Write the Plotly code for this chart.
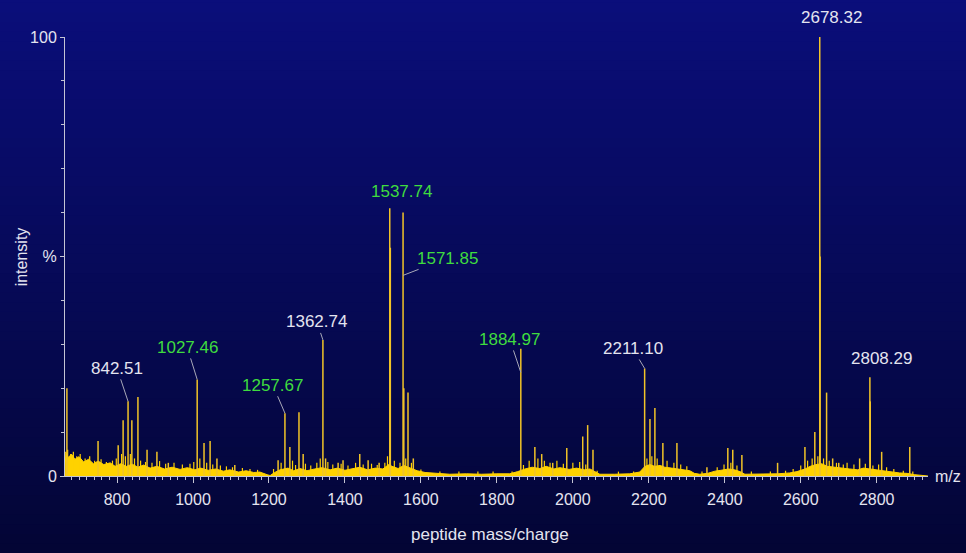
import plotly.graph_objects as go

# ---- data ----
peak_mz = [668, 750, 803, 816, 829, 839, 855, 879, 905, 935,
           1011, 1029, 1045, 1063, 1110,
           1224, 1242, 1255, 1279, 1290,
           1342, 1349, 1382, 1395, 1439, 1461, 1490,
           1518, 1519.5, 1553, 1555, 1566, 1580,
           1863, 1900, 1918, 1947, 1984, 2026, 2039, 2053,
           2189, 2203, 2216, 2237, 2274, 2353, 2408, 2421, 2445, 2539,
           2611, 2637, 2650, 2651, 2668, 2684, 2700, 2755, 2782, 2783, 2813, 2887]
peak_int = [20, 8, 7, 12.7, 17, 12.7, 18, 6, 5.5, 3,
            22, 7.5, 8, 4, 2.5,
            3.6, 14.3, 6.6, 14.5, 5,
            31, 4, 3, 3.6, 5, 3.6, 3,
            61, 52, 60, 20, 19, 4,
            29, 6.6, 5, 3, 6.4, 9, 11.6, 6,
            24.5, 13, 15.5, 7.5, 7.5, 2, 6.4, 6, 4.8, 3,
            6.6, 10, 100, 50, 19, 4, 3, 4, 22.5, 17, 5.5, 6.6]

noise_mz = [670, 678, 685, 694, 703, 716, 728, 741, 758, 772, 788, 798, 812, 822, 835,
            846, 862, 875, 892, 912, 928, 950, 972, 992, 1002, 1018, 1036, 1052, 1072,
            1088, 1104, 1130, 1150, 1170, 1212, 1232, 1262, 1270, 1296, 1310, 1326, 1335,
            1355, 1368, 1390, 1408, 1428, 1448, 1470, 1485, 1505, 1512, 1530, 1545, 1560,
            1575, 1600, 1650, 1700, 1750, 1790, 1840, 1870, 1885, 1908, 1925, 1940, 1958,
            1975, 2000, 2018, 2034, 2064, 2120, 2160, 2195, 2208, 2222, 2248, 2266, 2284,
            2300, 2340, 2380, 2398, 2416, 2432, 2470, 2520, 2560, 2580, 2600, 2618, 2630,
            2645, 2660, 2675, 2694, 2712, 2722, 2740, 2770, 2790, 2805, 2826, 2845, 2870, 2895]
noise_int = [6, 5, 5.5, 4.5, 5, 4, 4.5, 3.5, 3.8, 3.2, 3.5, 4, 5, 4.5, 5,
             4, 3.5, 3.2, 3, 3.4, 2.8, 3, 2.6, 2.8, 3.2, 4, 3, 2.6, 2.4,
             2.2, 2, 1.8, 1.6, 1.4, 1.6, 3, 3.5, 2.5, 2.8, 2.4, 3, 4,
             3.2, 2.6, 2.8, 2.4, 3, 2.6, 2.8, 2.5, 3, 4.5, 3.5, 3, 4,
             3, 1.5, 1, 1, 1, 1, 1, 2.5, 3.5, 4, 3.5, 3, 3.5,
             2.8, 3, 3.2, 2.6, 1.2, 1, 1, 4, 4.5, 4, 3.5, 3, 2.6,
             2.2, 1, 2, 2.6, 3, 2.4, 1, 1, 1.2, 1.6, 2.4, 3.5, 4,
             4.5, 4, 3.5, 3, 2.6, 3, 2.6, 2.8, 2.4, 2.6, 2, 1.6, 1.2, 1]

baseline_mz = [663, 665, 672, 680, 689, 700, 712, 725, 738, 750, 765, 782, 795, 810, 825,
               840, 855, 870, 887, 905, 925, 945, 966, 985, 1005, 1020, 1040, 1060, 1080,
               1097, 1120, 1140, 1160, 1176, 1195, 1203, 1215, 1229, 1250, 1265, 1282, 1300,
               1320, 1340, 1361, 1380, 1400, 1420, 1439, 1460, 1480, 1500, 1515, 1524, 1540,
               1555, 1571, 1590, 1611, 1640, 1676, 1720, 1760, 1800, 1834, 1855, 1874, 1893,
               1913, 1930, 1950, 1966, 1990, 2010, 2030, 2045, 2060, 2071, 2110, 2150, 2176,
               2190, 2203, 2215, 2230, 2242, 2260, 2275, 2290, 2308, 2320, 2334, 2355, 2374,
               2390, 2410, 2426, 2440, 2453, 2500, 2540, 2571, 2590, 2611, 2625, 2640, 2655,
               2670, 2689, 2705, 2729, 2750, 2765, 2782, 2800, 2820, 2834, 2860, 2880, 2900, 2935]
baseline_int = [0, 5.5, 4.2, 5.0, 3.8, 4.4, 3.2, 3.8, 2.8, 3.4, 2.6, 3.0, 2.2, 2.8, 2.2,
                2.7, 2.0, 2.5, 1.8, 2.2, 1.6, 2.0, 1.5, 1.9, 1.4, 1.8, 1.3, 1.6, 1.1,
                1.4, 0.9, 1.2, 0.8, 0.9, 0.3, 0.1, 0.8, 1.4, 1.8, 1.2, 1.7, 1.2,
                1.6, 1.9, 1.4, 1.8, 1.3, 1.7, 2.0, 1.4, 1.8, 1.6, 2.6, 2.2, 1.7,
                2.4, 1.8, 1.2, 0.8, 0.6, 0.4, 0.5, 0.4, 0.5, 0.5, 1.0, 1.6, 2.0,
                1.7, 2.2, 1.6, 1.9, 1.5, 1.8, 1.4, 1.6, 0.8, 0.4, 0.4, 0.5, 0.9,
                2.2, 2.6, 2.2, 2.4, 2.0, 1.8, 1.6, 1.4, 1.2, 0.6, 0.4, 0.6, 1.1,
                1.3, 1.6, 1.4, 1.0, 0.4, 0.4, 0.5, 0.7, 1.0, 1.6, 2.2, 2.6, 2.8,
                2.2, 2.0, 1.7, 1.6, 1.4, 1.8, 1.6, 1.4, 1.2, 0.9, 0.7, 0.6, 0.3, 0]

label_text = ["842.51", "1027.46", "1257.67", "1362.74", "1537.74", "1571.85",
              "1884.97", "2211.10", "2678.32", "2808.29"]
label_mz = [829, 1011, 1242, 1342, 1518, 1553, 1863, 2189, 2650, 2782]
label_int = [17, 22, 14.3, 31, 61, 45.7, 23.6, 24.5, 100, 22.5]
label_green = [False, True, True, False, True, True, True, False, False, False]

x_ticks = [800, 1000, 1200, 1400, 1600, 1800, 2000, 2200, 2400, 2600, 2800]
y_tickvals = [0, 50, 100]
y_ticktext = ["0", "%", "100"]

# ---- styling ----
FONT = "Liberation Sans, Arial, sans-serif"
WHITE = "#e4e4f0"
GREEN = "#3fdc3f"
YELLOW = "#ffd200"
AXIS = "#c4c4d4"

# per-label placement (pixel offsets of text from peak top), style only
label_offsets = [(-11, -33, True), (-10, -32, True), (-12, -28, True), (-6, -18, True),
                 (12, 17, False), (44, -17, True), (-11, -33, True), (-12, -20, True),
                 (12, 20, False), (12, 19, False)]

fig = go.Figure()

# baseline noise envelope
fig.add_trace(go.Scatter(x=baseline_mz, y=baseline_int, mode="lines",
                         line=dict(color=YELLOW, width=1), fill="tozeroy",
                         fillcolor=YELLOW, hoverinfo="skip", showlegend=False))

# small noise spikes
nx, ny = [], []
for m, h in zip(noise_mz, noise_int):
    nx += [m, m, None]
    ny += [0, h, None]
fig.add_trace(go.Scatter(x=nx, y=ny, mode="lines",
                         line=dict(color=YELLOW, width=1.2),
                         hoverinfo="skip", showlegend=False))

# stick spectrum
sx, sy = [], []
for m, h in zip(peak_mz, peak_int):
    sx += [m, m, None]
    sy += [0, h, None]
fig.add_trace(go.Scatter(x=sx, y=sy, mode="lines",
                         line=dict(color="#f2c428", width=1.5),
                         hoverinfo="skip", showlegend=False))

annotations = []
for txt, m, h, g, (dx, dy, arrow) in zip(label_text, label_mz, label_int, label_green, label_offsets):
    col = GREEN if g else WHITE
    if arrow:
        annotations.append(dict(x=m, y=h, xref="x", yref="y", text=txt,
                                showarrow=True, arrowhead=0, arrowwidth=1,
                                arrowcolor="#a8a8b8", ax=dx, ay=dy, standoff=0,
                                font=dict(family=FONT, size=17, color=col)))
    else:
        annotations.append(dict(x=m, y=h, xref="x", yref="y", text=txt,
                                showarrow=False, xshift=dx, yshift=dy,
                                xanchor="center", yanchor="middle",
                                font=dict(family=FONT, size=17, color=col)))

annotations += [
    dict(text="intensity", xref="paper", yref="paper", x=-0.05, y=0.5,
         textangle=-90, showarrow=False, xanchor="center", yanchor="middle",
         font=dict(family=FONT, size=16, color=WHITE)),
    dict(text="peptide mass/charge", xref="paper", yref="paper", x=0.4925, y=-0.134,
         showarrow=False, xanchor="center", yanchor="middle",
         font=dict(family=FONT, size=17, color=WHITE)),
    dict(text="m/z", xref="paper", yref="paper", x=1.023, y=0.0,
         showarrow=False, xanchor="center", yanchor="middle",
         font=dict(family=FONT, size=16, color=WHITE)),
]

# vertical gradient background bands
shapes = []
n = 60
top = (10, 14, 124)
bot = (3, 5, 52)
y0, y1 = -0.2, 1.12
for i in range(n):
    t = i / (n - 1)
    c = tuple(int(round(top[k] + (bot[k] - top[k]) * t)) for k in range(3))
    ya = y1 - (y1 - y0) * i / n
    yb = y1 - (y1 - y0) * (i + 1) / n
    shapes.append(dict(type="rect", xref="paper", yref="paper", x0=-0.1, x1=1.1,
                       y0=yb, y1=ya + 0.002, layer="below", line=dict(width=0),
                       fillcolor="rgb(%d,%d,%d)" % c))

fig.update_layout(
    width=966, height=553, autosize=False,
    margin=dict(l=65, r=38, t=37, b=77),
    paper_bgcolor="#060a5a", plot_bgcolor="rgba(0,0,0,0)",
    showlegend=False, shapes=shapes, annotations=annotations,
    xaxis=dict(range=[663, 2935], showgrid=False, zeroline=False,
               showline=True, linecolor=AXIS, linewidth=1,
               tickmode="array", tickvals=x_ticks,
               ticks="outside", ticklen=6, tickcolor=AXIS, tickwidth=1,
               minor=dict(dtick=20, tick0=800, ticks="outside", ticklen=3,
                          tickcolor=AXIS, showgrid=False),
               ticklabelstandoff=3,
               tickfont=dict(family=FONT, size=16, color=WHITE)),
    yaxis=dict(range=[0, 100], showgrid=False, zeroline=False,
               showline=True, linecolor=AXIS, linewidth=1,
               tickmode="array", tickvals=y_tickvals, ticktext=y_ticktext,
               ticks="outside", ticklen=4, tickcolor=AXIS, tickwidth=1,
               minor=dict(dtick=10, tick0=0, ticks="outside", ticklen=3,
                          tickcolor=AXIS, showgrid=False),
               tickfont=dict(family=FONT, size=16, color=WHITE)),
)

fig.write_html("out.html", config={"displayModeBar": False},
               post_script="document.body.style.margin='0';document.body.style.background='#03053a';")
